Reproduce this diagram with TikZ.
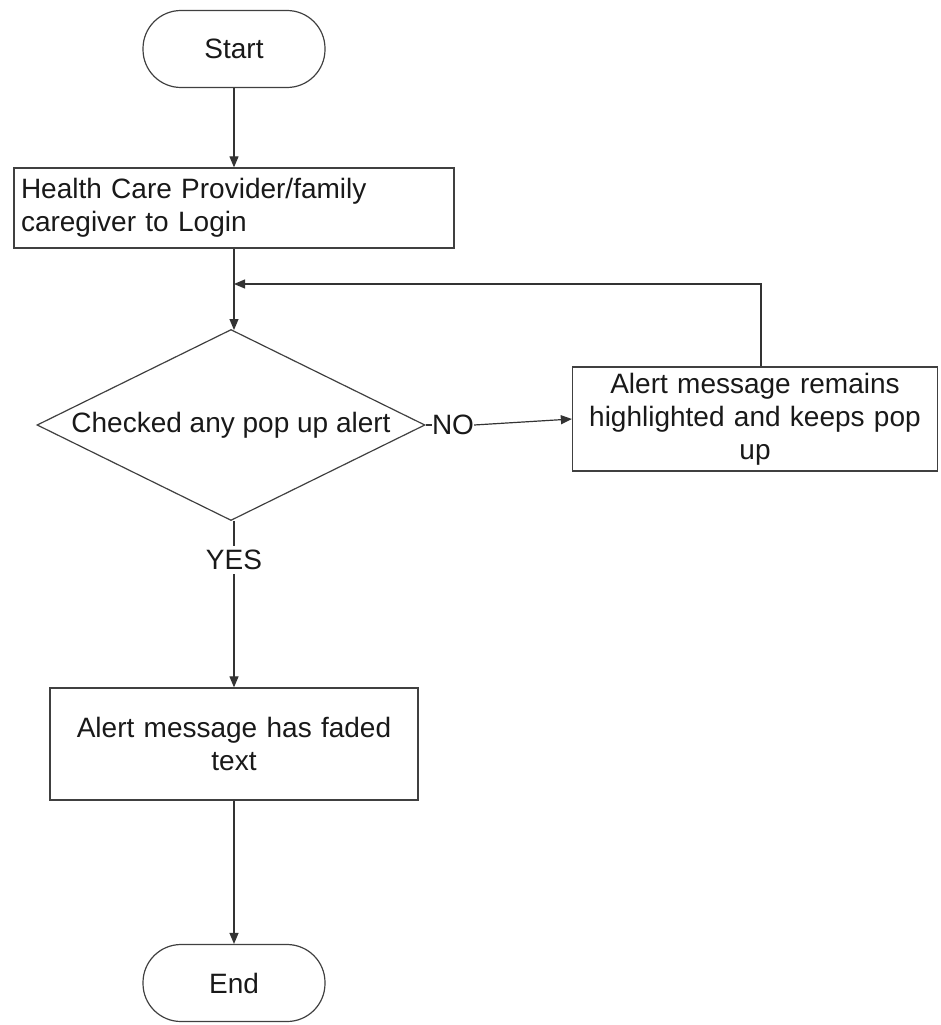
\documentclass[tikz,border=0pt]{standalone}
\usepackage{fontspec}
\setmainfont{Liberation Sans}
\usetikzlibrary{shapes.geometric,arrows.meta}
\begin{document}
\begin{tikzpicture}[x=1pt, y=-1pt,
	every node/.style={font=\fontsize{28}{33}\selectfont, text=black!90},
	term/.style={draw=black!75, line width=1.2pt, rounded corners=38pt, minimum width=182pt, minimum height=77pt},
	proc/.style={draw=black!75, line width=1.3pt, inner sep=0pt},
	decide/.style={draw=black!75, line width=1.2pt, diamond, aspect=2, inner sep=0pt, minimum width=388pt, minimum height=191pt},
	line/.style={black!80, line width=1.2pt},
	arrow/.style={line, -{Triangle[length=11pt,width=9pt]}}]
		\useasboundingbox (0,0) rectangle (940,1025);
		
		\node[term] (start) at (234,49) {Start};
		\node[proc, minimum width=440pt, minimum height=80pt, text width=426pt, align=left] (login) at (234,208) {Health Care Provider/family\\caregiver to Login};
		\node[decide] (dec) at (231,425) {Checked any pop up alert};
		\node[inner sep=0pt] (no) at (453,425) {NO};
		\node[proc, minimum width=365pt, minimum height=104pt, text width=350pt, align=center] (remain) at (755,419) {Alert message remains\\highlighted and keeps pop\\up};
		\node[inner sep=4pt] (yes) at (234,560) {YES};
		\node[proc, minimum width=368pt, minimum height=112pt, text width=350pt, align=center] (faded) at (234,744) {Alert message has faded\\text};
		\node[term] (end) at (234,983) {End};
		\coordinate (back) at (234,284);
		
		\draw[arrow] (start) -- (login);
		\draw[arrow] (login.south) -- (234,330);
		\draw[line] (dec.east) -- (no.west);
		\draw[arrow] (no.east) -- (remain.west);
		\draw[arrow] ([xshift=6pt]remain.north) |- (back);
		\draw[line] (dec.south -| yes) -- (yes.north);
		\draw[arrow] (yes.south) -- (faded.north);
		\draw[arrow] (faded) -- (end);
	\end{tikzpicture}
\end{document}
